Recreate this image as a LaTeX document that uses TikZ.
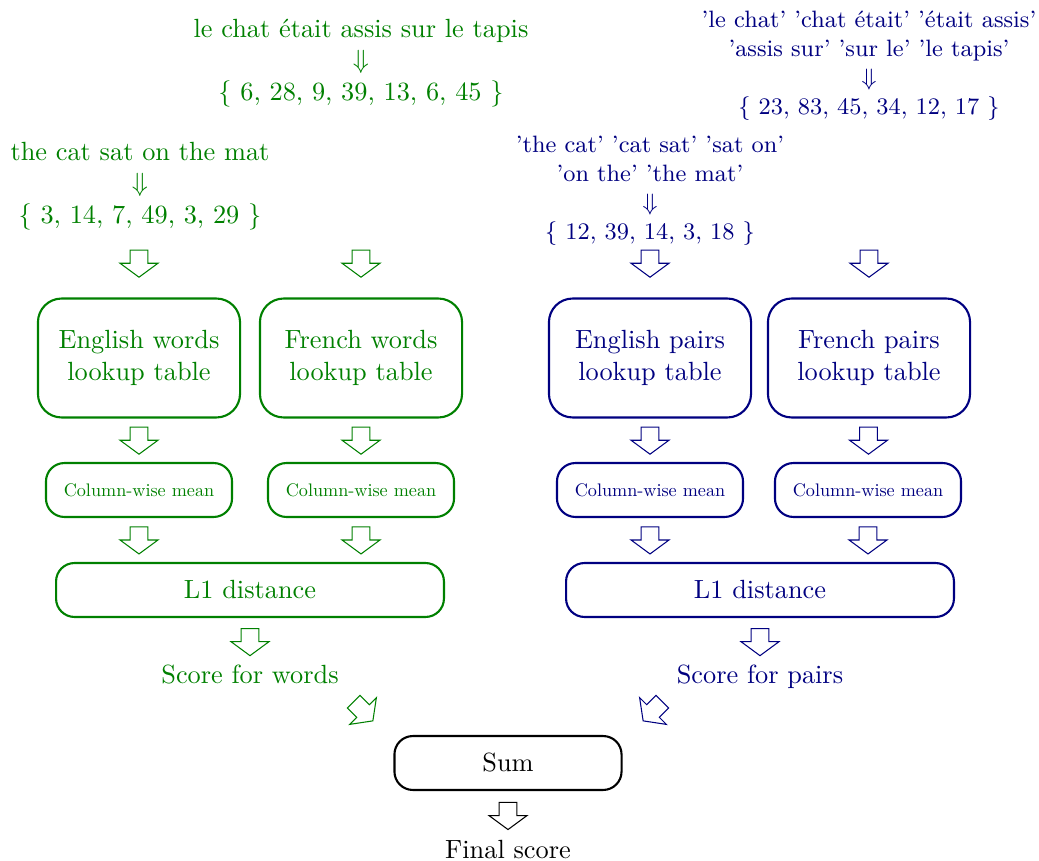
\documentclass[tikz,border=0pt]{standalone}
\usetikzlibrary{calc}
\definecolor{wgreen}{RGB}{0,128,0}
\definecolor{pblue}{RGB}{0,0,128}
\newcommand{\cwmean}{\scalebox{0.69}{Column-wise mean}}
\tikzset{
  bigbox/.style={draw, thick, rounded corners=9pt, minimum width=76.8pt,
    minimum height=45.2pt, align=center, inner sep=0pt},
  meanbox/.style={draw, thick, rounded corners=7pt, minimum width=70.7pt,
    minimum height=20.5pt, inner sep=0pt},
  widebox/.style={draw, thick, rounded corners=7pt, minimum width=147.4pt,
    minimum height=20.5pt, inner sep=0pt},
  sumbox/.style={draw, thick, rounded corners=7pt, minimum width=86.3pt,
    minimum height=20.5pt, inner sep=0pt},
  textblock/.style={align=center, inner sep=0pt},
  pairblock/.style={align=center, inner sep=0pt, anchor=north, font=\small},
  scoretext/.style={inner sep=0pt, anchor=base},
  hollow/.pic={
    \draw[pic actions] (-3.4pt,5pt) -- (3.4pt,5pt) -- (3.4pt,0pt) -- (7.2pt,0pt)
      -- (0pt,-5.3pt) -- (-7.2pt,0pt) -- (-3.4pt,0pt) -- cycle;
  }
}
\begin{document}
\begin{tikzpicture}[x=0.38pt,y=-0.38pt]
\useasboundingbox (0,0) rectangle (1039,861);

% ---- word-level branch (green) ----
\begin{scope}[wgreen]
\node[textblock] (frw) at (361,63)
  {le chat était assis sur le tapis\\$\Downarrow$\\\{ 6, 28, 9, 39, 13, 6, 45 \}};
\node[textblock] (enw) at (140,186)
  {the cat sat on the mat\\$\Downarrow$\\\{ 3, 14, 7, 49, 3, 29 \}};
\node[bigbox] (ewt) at (139,358) {English words\\lookup table};
\node[bigbox] (fwt) at (361,358) {French words\\lookup table};
\node[meanbox] (ewm) at (139,490) {\cwmean};
\node[meanbox] (fwm) at (361,490) {\cwmean};
\node[widebox] (wl1) at (250,590) {L1 distance};
\node[scoretext] (wsc) at (250,683) {Score for words};

\pic[color=wgreen] at ([yshift=13pt]ewt.north) {hollow};
\pic[color=wgreen] at ([yshift=13pt]fwt.north) {hollow};
\pic[color=wgreen] at ($(ewt.south)!.5!(ewm.north)$) {hollow};
\pic[color=wgreen] at ($(fwt.south)!.5!(fwm.north)$) {hollow};
\pic[color=wgreen] at ($(ewm.south)!.5!(ewm.south |- wl1.north)$) {hollow};
\pic[color=wgreen] at ($(fwm.south)!.5!(fwm.south |- wl1.north)$) {hollow};
\pic[color=wgreen] at ([yshift=-9pt]wl1.south) {hollow};
\end{scope}

% ---- pair-level branch (blue) ----
\begin{scope}[pblue]
\node[pairblock] (frp) at (869,10.5)
  {'le chat' 'chat était' 'était assis'\\'assis sur' 'sur le' 'le tapis'\\$\Downarrow$\\\{ 23, 83, 45, 34, 12, 17 \}};
\node[pairblock] (enp) at (650,136)
  {'the cat' 'cat sat' 'sat on'\\'on the' 'the mat'\\$\Downarrow$\\\{ 12, 39, 14, 3, 18 \}};
\node[bigbox] (ept) at (650,358) {English pairs\\lookup table};
\node[bigbox] (fpt) at (869,358) {French pairs\\lookup table};
\node[meanbox] (epm) at (650,490) {\cwmean};
\node[meanbox] (fpm) at (868,490) {\cwmean};
\node[widebox] (pl1) at (760,590) {L1 distance};
\node[scoretext] (psc) at (760,683) {Score for pairs};

\pic[color=pblue] at ([yshift=13pt]ept.north) {hollow};
\pic[color=pblue] at ([yshift=13pt]fpt.north) {hollow};
\pic[color=pblue] at ($(ept.south)!.5!(epm.north)$) {hollow};
\pic[color=pblue] at ($(fpt.south)!.5!(fpm.north)$) {hollow};
\pic[color=pblue] at ($(epm.south)!.5!(epm.south |- pl1.north)$) {hollow};
\pic[color=pblue] at ($(fpm.south)!.5!(fpm.south |- pl1.north)$) {hollow};
\pic[color=pblue] at ([yshift=-9pt]pl1.south) {hollow};
\end{scope}

% ---- combination ----
\node[sumbox] (sum) at (508,763) {Sum};
\node[inner sep=0pt] (fin) at (508,850) {Final score};
\pic[color=wgreen, rotate=45] at (363,711) {hollow};
\pic[color=pblue, rotate=-45] at (653,711) {hollow};
\pic at ($(sum.south)!.5!(fin.north)$) {hollow};
\end{tikzpicture}
\end{document}
